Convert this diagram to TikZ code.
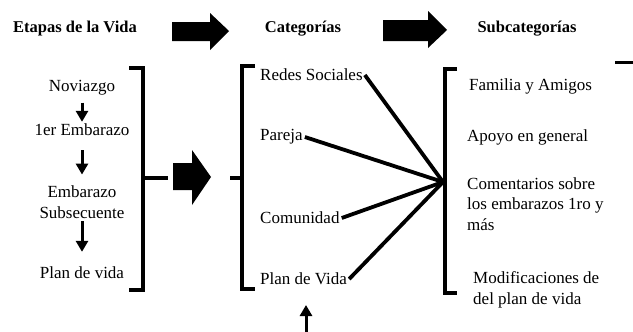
\documentclass[tikz,border=0pt]{standalone}
\usepackage{fontspec}
\setmainfont{Liberation Serif}
\usetikzlibrary{arrows.meta, positioning}

\begin{document}
\begin{tikzpicture}[
    x=1pt, y=-1pt,
    font=\fontsize{17}{20.5}\selectfont,
    >={Triangle[width=12pt,length=11pt]},
    head/.style={font=\fontsize{16.5}{20}\selectfont\bfseries},
    lbl/.style={inner sep=2pt},
    brk/.style={line width=4pt, miter limit=2},
    spoke/.style={line width=3.8pt},
    down/.style={->, line width=3pt}
]
    % lienzo fijo: 633 x 332
    \path[use as bounding box] (0,0) rectangle (633,332);

    % ==========================================
    % Encabezados y flechas gruesas
    % ==========================================
    \node[head] (etapas) at (75,29) {Etapas de la Vida};
    \node[head] (categ) at (303,29) {Categorías};
    \node[head] (subcat) at (527,29) {Subcategorías};

    \fill (172,22) -- (210,22) -- (210,13) -- (229,31) -- (210,50) -- (210,41) -- (172,41) -- cycle;
    \fill (383,20) -- (428,20) -- (428,11) -- (447,30) -- (428,48) -- (428,41) -- (383,41) -- cycle;

    % ==========================================
    % Etapas de la vida
    % ==========================================
    \node[lbl] (novio) at (82,88) {Noviazgo};
    \node[lbl] (emb1) at (82,130) {1er Embarazo};
    \node[lbl, align=center] (embsub) at (82,202) {Embarazo\\Subsecuente};
    \node[lbl] (plan) at (82,273) {Plan de vida};

    \draw[down, shorten <=5pt] (novio) -- (emb1);
    \draw[down, shorten <=12pt, shorten >=9pt] (emb1) -- (embsub);
    \draw[down, shorten <=1pt, shorten >=13pt] (embsub) -- (plan);

    % corchete derecho
    \draw[brk] (129,68) -- (143,68) -- (143,290) -- (129,290);
    \draw[brk] (143,178) -- (168,178);

    % flecha central
    \fill (173,163) -- (192,163) -- (192,150) -- (211,177) -- (192,205) -- (192,190) -- (173,190) -- cycle;

    % ==========================================
    % Categorías
    % ==========================================
    \draw[brk] (255,66) -- (242,66) -- (242,289) -- (255,289);
    \draw[brk] (230,178) -- (242,178);

    \node[lbl, anchor=west] (redes) at (258,75) {Redes Sociales};
    \node[lbl, anchor=west] (pareja) at (258,137) {Pareja};
    \node[lbl, anchor=west] (comun) at (258,218) {Comunidad};
    \node[lbl, anchor=west] (planv) at (258,279) {Plan de Vida};

    \coordinate (hub) at (443,182);
    \draw[spoke] (redes.east) -- (hub);
    \draw[spoke] (pareja.east) -- (hub);
    \draw[spoke] (comun.east) -- (hub);
    \draw[spoke] (planv.east) -- (hub);

    % flecha inferior
    \coordinate (pie) at (306,332);
    \coordinate (punta) at (306,305);
    \draw[down] (pie) -- (punta);

    % ==========================================
    % Subcategorías
    % ==========================================
    \draw[brk] (457,69) -- (445,69) -- (445,293) -- (457,293);

    \node[lbl, anchor=west] (famil) at (467,86) {Familia y Amigos};
    \node[lbl, anchor=west] (apoyo) at (465,137) {Apoyo en general};
    \node[lbl, anchor=west, align=left] (coment) at (465,204) {Comentarios sobre\\los embarazos 1ro y\\más};
    \node[lbl, anchor=west, align=left] (modif) at (471,290) {Modificaciones de\\del plan de vida};

    % trazo suelto arriba a la derecha
    \draw[line width=3pt] (615,62) -- (633,62);

\end{tikzpicture}
\end{document}
